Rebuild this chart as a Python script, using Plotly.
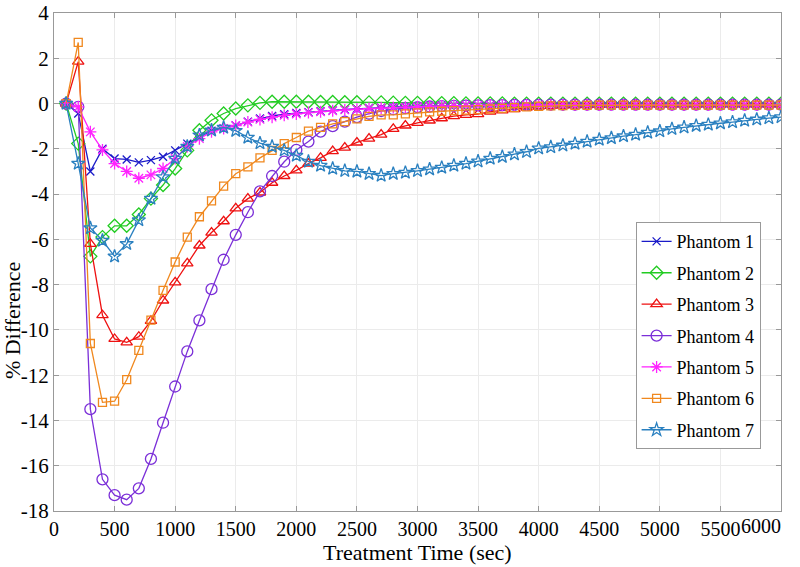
import plotly.graph_objects as go

time_sec = [100, 200, 300, 400, 500, 600, 700, 800, 900, 1000,
            1100, 1200, 1300, 1400, 1500, 1600, 1700, 1800, 1900, 2000,
            2100, 2200, 2300, 2400, 2500, 2600, 2700, 2800, 2900, 3000,
            3100, 3200, 3300, 3400, 3500, 3600, 3700, 3800, 3900, 4000,
            4100, 4200, 4300, 4400, 4500, 4600, 4700, 4800, 4900, 5000,
            5100, 5200, 5300, 5400, 5500, 5600, 5700, 5800, 5900, 6000]

phantom1 = [0, -0.44, -3.0, -2.0, -2.43, -2.47, -2.6, -2.5, -2.35, -2.07,
            -1.77, -1.47, -1.2, -1.1, -0.97, -0.8, -0.66, -0.55, -0.47, -0.42,
            -0.38, -0.34, -0.3, -0.26, -0.23, -0.2, -0.18, -0.16, -0.14, -0.12,
            -0.11, -0.1, -0.09, -0.08, -0.08, -0.07, -0.07, -0.06, -0.06, -0.06,
            -0.05, -0.05, -0.05, -0.05, -0.05, -0.05, -0.05, -0.05, -0.05, -0.05,
            -0.05, -0.05, -0.05, -0.05, -0.05, -0.05, -0.05, -0.05, -0.05, -0.05]

phantom2 = [0, -1.77, -6.75, -5.9, -5.4, -5.4, -4.9, -4.2, -3.6, -2.87,
            -2.07, -1.18, -0.74, -0.44, -0.22, -0.08, 0.03, 0.08, 0.08, 0.08,
            0.08, 0.07, 0.07, 0.06, 0.06, 0.05, 0.05, 0.04, 0.03, 0.03,
            0.02, 0.02, 0.02, 0.01, 0.01, 0.01, 0.01, 0.0, 0.0, 0.0,
            0.0, 0.0, 0.0, 0.0, 0.0, 0.0, 0.0, 0.0, 0.0, 0.0,
            0.0, 0.0, 0.0, 0.0, 0.0, 0.0, 0.0, 0.0, 0.0, 0.0]

phantom3 = [0, 1.85, -6.2, -9.35, -10.4, -10.55, -10.3, -9.6, -8.7, -7.9,
            -7.06, -6.27, -5.7, -5.2, -4.63, -4.2, -3.93, -3.5, -3.2, -2.95,
            -2.65, -2.4, -2.1, -1.95, -1.72, -1.55, -1.37, -1.12, -0.97, -0.85,
            -0.75, -0.65, -0.56, -0.5, -0.47, -0.36, -0.3, -0.25, -0.18, -0.13,
            -0.1, -0.09, -0.08, -0.07, -0.06, -0.06, -0.06, -0.05, -0.05, -0.05,
            -0.05, -0.05, -0.05, -0.05, -0.05, -0.05, -0.05, -0.05, -0.05, -0.05]

phantom4 = [0, -0.15, -13.5, -16.6, -17.3, -17.5, -17.0, -15.7, -14.1, -12.5,
            -10.95, -9.58, -8.2, -6.9, -5.8, -4.8, -3.88, -3.2, -2.57, -2.05,
            -1.68, -1.24, -1.0, -0.8, -0.6, -0.45, -0.33, -0.25, -0.2, -0.16,
            -0.13, -0.11, -0.1, -0.09, -0.08, -0.07, -0.07, -0.06, -0.06, -0.06,
            -0.05, -0.05, -0.05, -0.05, -0.05, -0.05, -0.05, -0.05, -0.05, -0.05,
            -0.05, -0.05, -0.05, -0.05, -0.05, -0.05, -0.05, -0.05, -0.05, -0.05]

phantom5 = [0, -0.15, -1.25, -2.05, -2.65, -3.0, -3.3, -3.15, -2.87, -2.43,
            -1.9, -1.55, -1.25, -1.1, -0.97, -0.82, -0.7, -0.6, -0.52, -0.46,
            -0.4, -0.36, -0.32, -0.28, -0.25, -0.22, -0.2, -0.18, -0.16, -0.14,
            -0.12, -0.11, -0.1, -0.09, -0.08, -0.08, -0.07, -0.07, -0.06, -0.06,
            -0.06, -0.06, -0.06, -0.06, -0.06, -0.06, -0.06, -0.06, -0.06, -0.06,
            -0.06, -0.06, -0.06, -0.06, -0.06, -0.06, -0.06, -0.06, -0.06, -0.06]

phantom6 = [0, 2.7, -10.6, -13.2, -13.15, -12.2, -10.9, -9.57, -8.25, -7.0,
            -5.9, -5.0, -4.3, -3.65, -3.1, -2.8, -2.4, -2.07, -1.77, -1.5,
            -1.22, -1.05, -0.9, -0.8, -0.68, -0.57, -0.5, -0.5, -0.46, -0.41,
            -0.37, -0.34, -0.31, -0.29, -0.27, -0.24, -0.21, -0.18, -0.15, -0.12,
            -0.1, -0.09, -0.08, -0.08, -0.07, -0.07, -0.07, -0.07, -0.07, -0.07,
            -0.07, -0.07, -0.07, -0.07, -0.07, -0.07, -0.07, -0.07, -0.07, -0.07]

phantom7 = [0, -2.65, -5.5, -6.05, -6.75, -6.2, -5.15, -4.2, -3.25, -2.43,
            -1.9, -1.4, -1.18, -1.06, -1.2, -1.5, -1.75, -1.9, -2.07, -2.3,
            -2.56, -2.74, -2.87, -2.97, -3.0, -3.1, -3.18, -3.1, -3.05, -2.97,
            -2.9, -2.83, -2.74, -2.65, -2.55, -2.43, -2.35, -2.24, -2.13, -1.98,
            -1.92, -1.85, -1.77, -1.68, -1.59, -1.52, -1.44, -1.37, -1.28, -1.22,
            -1.12, -1.05, -0.98, -0.93, -0.87, -0.82, -0.75, -0.7, -0.64, -0.6]

series_names = ["Phantom 1", "Phantom 2", "Phantom 3", "Phantom 4",
                "Phantom 5", "Phantom 6", "Phantom 7"]
series_values = [phantom1, phantom2, phantom3, phantom4, phantom5, phantom6, phantom7]
series_colors = ["#1a1ac8", "#22cc22", "#ee1111", "#7b2fd8", "#ff22ff", "#f0881e", "#2a80c0"]
series_symbols = ["x-thin-open", "diamond-open", "triangle-up-open", "circle-open",
                  "asterisk-open", "square-open", "star-open"]
series_sizes = [8, 10, 10, 11, 10, 8, 10]

y_tick_vals = [4, 2, 0, -2, -4, -6, -8, -10, -12, -14, -16, -18]
y_tick_text = ["4", "2", "0", "-2", "-4", "-6", "-8", "-10", "-12", "-14", "-16", "-18"]
x_tick_vals = [0, 500, 1000, 1500, 2000, 2500, 3000, 3500, 4000, 4500, 5000, 5500, 6000]
x_tick_text = ["0", "500", "1000", "1500", "2000", "2500", "3000", "3500", "4000",
               "4500", "5000", "5500", ""]
x_last_label = "6000"

x_title = "Treatment Time (sec)"
y_title = "% Difference"

FONT = "Times New Roman"

fig = go.Figure()
for i, (name, vals) in enumerate(zip(series_names, series_values)):
    fig.add_trace(go.Scatter(
        x=time_sec, y=vals, name=name, mode="lines+markers",
        legendgroup=name,
        line=dict(color=series_colors[i], width=1.3),
        marker=dict(symbol=series_symbols[i], size=series_sizes[i],
                    color=series_colors[i],
                    line=dict(color=series_colors[i], width=1.3)),
    ))

fig.update_layout(
    width=800, height=567,
    margin=dict(l=54, r=19, t=13, b=56),
    paper_bgcolor="white", plot_bgcolor="white",
    font=dict(family=FONT, color="black", size=20),
    showlegend=True,
    legend=dict(
        x=0.80, y=0.58, xanchor="left", yanchor="top",
        bgcolor="white", bordercolor="#999999", borderwidth=1,
        font=dict(family=FONT, size=18, color="black"),
        traceorder="grouped", tracegroupgap=5,
    ),
    xaxis=dict(
        range=[0, 6000], tickvals=x_tick_vals, ticktext=x_tick_text,
        automargin=False,
        showgrid=True, gridcolor="#ebebeb", gridwidth=1,
        zeroline=False, showline=True, linecolor="#999999", linewidth=1,
        mirror="ticks", ticks="inside", ticklen=5, tickcolor="#999999",
        tickfont=dict(family=FONT, size=20, color="black"),
    ),
    yaxis=dict(
        range=[-18, 4], tickvals=y_tick_vals, ticktext=y_tick_text,
        automargin=False,
        showgrid=True, gridcolor="#ebebeb", gridwidth=1,
        zeroline=False, showline=True, linecolor="#999999", linewidth=1,
        mirror="ticks", ticks="inside", ticklen=5, tickcolor="#999999",
        tickfont=dict(family=FONT, size=21, color="black"),
    ),
    annotations=[
        dict(text=x_last_label, xref="x", yref="paper", x=6000, y=0,
             xanchor="right", yanchor="top", yshift=-2, xshift=2, showarrow=False,
             font=dict(family=FONT, size=20, color="black")),
        dict(text=x_title, xref="paper", yref="paper", x=0.5, y=-0.084,
             xanchor="center", yanchor="middle", showarrow=False,
             font=dict(family=FONT, size=22, color="black")),
        dict(text=y_title, xref="paper", yref="paper", x=-0.058, y=0.383,
             xanchor="center", yanchor="middle", textangle=-90, showarrow=False,
             font=dict(family=FONT, size=22, color="black")),
    ],
)

fig.write_html("out.html", config={"displayModeBar": False},
               post_script="document.body.style.margin='0';document.body.style.padding='0';")
